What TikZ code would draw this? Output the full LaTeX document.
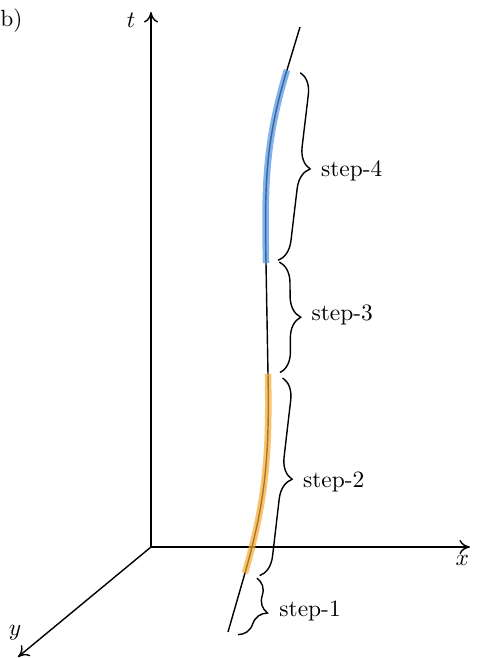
\documentclass[tikz,border=0pt]{standalone}
\usepackage{xcolor}
\usetikzlibrary{arrows.meta}
\usetikzlibrary{decorations.pathreplacing, math, calc}
\definecolor{myorange}{RGB}{245,170,50}
\definecolor{myblue}{RGB}{80,145,225}

\begin{document}
\begin{tikzpicture}[scale=1,
brc/.style={decorate, decoration={brace, amplitude=9pt}, semithick},
hl/.style={line width=2.8pt, opacity=0.7},
axis/.style={semithick,-{To[length=4.5pt,width=6pt]}}]
\tikzmath{
\d=0.2;
\e=0.04;
}
\useasboundingbox (-2.265,-1.665) rectangle (4.98,8.205);

\coordinate (O) at (0,0);%axes
\coordinate (T) at (0,8.025);
\coordinate (X) at (4.785,0);
\coordinate (Y) at (-1.995,-1.65);

\coordinate (P0) at (1.155,-1.275);%points on the path
\coordinate (P1) at (1.41,-0.39);
\coordinate (P2) at (1.755,2.595);
\coordinate (P3) at (1.725,4.26);
\coordinate (P4) at (2.04,7.155);
\coordinate (P5) at (2.235,7.8);


%axes
\draw[axis] (O) -- (T);
\draw[axis] (O) -- (X);
\draw[axis] (O) -- (Y);
\node (tl) at (-0.3,7.9) {$t$};
\node (xl) at (4.67,-0.2) {$x$};
\node (yl) at (-2.04,-1.28) {$y$};
\node[anchor=west, inner sep=0] (lab) at (-2.265,7.9) {b)};


%path
\draw[semithick] (P0) -- (P1) to[out=74,in=-89] (P2) -- (P3) to[out=91,in=-107] (P4) -- (P5);
\draw[hl, myorange] (P1) to[out=74,in=-89] (P2);
\draw[hl, myblue] (P3) to[out=91,in=-107] (P4);


%steps
\draw[brc] ($(P1)+(\d-0.02,-0.075)$) -- ($(P0)+(\d-0.05,-\e)$) node[midway,right=10pt,yshift=-2pt]{step-1};
\draw[brc] ($(P2)+(\d+0.02,-0.06)$) -- ($(P1)+(\d+0.02,-\e)$) node[midway,right=10pt,yshift=-2pt]{step-2};
\draw[brc] ($(P3)+(\d,0.015)$) -- ($(P2)+(\d-0.02,\e/2)$) node[midway,right=10pt,yshift=1pt]{step-3};
\draw[brc] ($(P4)+(\d,-\e)$) -- ($(P3)+(\d-0.02,\e)$) node[midway,right=10pt,yshift=-2pt]{step-4};
\end{tikzpicture}
\end{document}
